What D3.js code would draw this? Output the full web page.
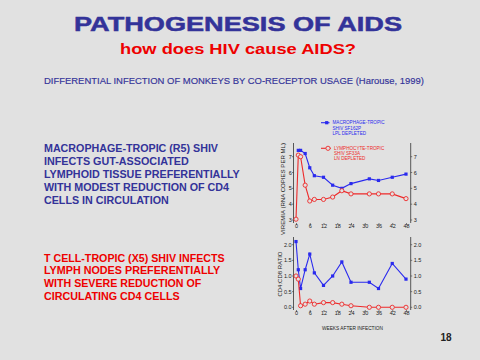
<!DOCTYPE html>
<html><head><meta charset="utf-8">
<script src="https://cdn.jsdelivr.net/npm/d3@7"></script>
<style>
html,body{margin:0;padding:0;background:#e1e1e1;}
svg{display:block;}
text{font-family:"Liberation Sans",Arial,sans-serif;}
</style></head>
<body>
<script>
// ---- data ----
const title = "PATHOGENESIS OF AIDS";
const subtitle = "how does HIV cause AIDS?";
const caption = "DIFFERENTIAL INFECTION OF MONKEYS BY CO-RECEPTOR USAGE (Harouse, 1999)";
const blueText = ["MACROPHAGE-TROPIC (R5) SHIV","INFECTS GUT-ASSOCIATED","LYMPHOID TISSUE PREFERENTIALLY","WITH MODEST REDUCTION OF CD4","CELLS IN CIRCULATION"];
const redText = ["T CELL-TROPIC (X5) SHIV INFECTS","LYMPH NODES PREFERENTIALLY","WITH SEVERE REDUCTION OF","CIRCULATING CD4 CELLS"];
const legendR5 = ["MACROPHAGE-TROPIC","SHIV SF162P","LPL DEPLETED"];
const legendX5 = ["LYMPHOCYTE-TROPIC","SHIV SF33A","LN DEPLETED"];
const weekTicks = [0,6,12,18,24,30,36,42,48];
const viremiaTicks = [3,4,5,6,7];
const ratioTicks = [0,0.5,1.0,1.5,2.0];

const weeksViremiaR5 = [1,2,4,6,8,12,16,20,24,32,36,42,48];
const viremiaR5 = [7.4,7.4,7.2,6.3,5.8,5.7,5.2,5.0,5.3,5.6,5.5,5.7,5.9];
const weeksViremiaX5 = [0,1,2,4,6,8,12,16,20,24,32,36,42,48];
const viremiaX5 = [3.05,7.1,7.0,5.2,4.2,4.3,4.3,4.45,4.85,4.65,4.65,4.65,4.65,4.35];

const weeksRatio = [0,1,2,4,6,8,12,16,20,24,32,36,42,48];
const ratioR5 = [2.1,1.2,0.6,1.2,1.7,1.1,0.7,1.0,1.45,0.8,0.8,0.6,1.4,0.9];
const ratioX5 = [1.0,0.9,0.05,0.1,0.2,0.1,0.15,0.15,0.1,0.05,0.0,0.0,0.0,0.0];

// ---- drawing ----
const W=480,H=360;
const svg=d3.select("body").append("svg").attr("width",W).attr("height",H);
svg.append("rect").attr("width",W).attr("height",H).attr("fill","#e1e1e1");

const navy="#333399", red="#ee0000", lineBlue="#2a2aee", lineRed="#ee2a2a";

svg.append("text").text(title).attr("x",74).attr("y",30.5)
  .attr("font-family","DejaVu Sans").attr("font-size",20).attr("font-weight","bold").attr("fill",navy)
  .attr("stroke",navy).attr("stroke-width",0.5)
  .attr("textLength",328).attr("lengthAdjust","spacingAndGlyphs");
svg.append("text").text(subtitle).attr("x",120).attr("y",53.5)
  .attr("font-family","DejaVu Sans").attr("font-size",15.5).attr("font-weight","bold").attr("fill",red)
  .attr("textLength",236).attr("lengthAdjust","spacingAndGlyphs");
svg.append("text").text(caption).attr("x",44).attr("y",84)
  .attr("font-size",8.5).attr("fill",navy).attr("stroke",navy).attr("stroke-width",0.15)
  .attr("textLength",380).attr("lengthAdjust","spacingAndGlyphs");

const blueW=[174,144.7,195.7,185,124.7];
svg.selectAll("text.bt").data(blueText).enter().append("text").attr("class","bt")
  .text(d=>d).attr("x",44).attr("y",(d,i)=>152.3+i*12.85)
  .attr("font-size",11).attr("font-weight","bold").attr("fill",navy)
  .attr("textLength",(d,i)=>blueW[i]).attr("lengthAdjust","spacingAndGlyphs");
const redW=[180.7,176.3,157.3,135.7];
svg.selectAll("text.rt").data(redText).enter().append("text").attr("class","rt")
  .text(d=>d).attr("x",44).attr("y",(d,i)=>261.7+i*12.7)
  .attr("font-size",11).attr("font-weight","bold").attr("fill",red)
  .attr("textLength",(d,i)=>redW[i]).attr("lengthAdjust","spacingAndGlyphs");

svg.append("text").text("18").attr("x",446).attr("y",341).attr("text-anchor","middle")
  .attr("font-size",10).attr("font-weight","bold").attr("fill","#222");

// scales
const x=d3.scaleLinear().domain([0,48]).range([296,406]);
const yTop=d3.scaleLinear().domain([3,7]).range([220,156.7]);
const yBot=d3.scaleLinear().domain([0,2]).range([307.3,244.7]);
const axL=293.5, axR=410.7;

function frame(y,y0,y1,ticks,fmt){
  const g=svg.append("g").attr("font-size",5.5).attr("fill","#222");
  g.append("line").attr("x1",axL).attr("x2",axL).attr("y1",y0).attr("y2",y1).attr("stroke","#333").attr("stroke-width",0.8);
  g.append("line").attr("x1",axR).attr("x2",axR).attr("y1",y0).attr("y2",y1).attr("stroke","#333").attr("stroke-width",0.8);
  ticks.forEach(t=>{
    g.append("line").attr("x1",axL-1.5).attr("x2",axL).attr("y1",y(t)).attr("y2",y(t)).attr("stroke","#333").attr("stroke-width",0.6);
    g.append("line").attr("x1",axR).attr("x2",axR+1.5).attr("y1",y(t)).attr("y2",y(t)).attr("stroke","#333").attr("stroke-width",0.6);
    g.append("text").text(fmt(t)).attr("x",axL-1.8).attr("y",y(t)+2).attr("text-anchor","end");
    g.append("text").text(fmt(t)).attr("x",axR+3).attr("y",y(t)+2);
  });
  const xa=svg.append("g").attr("transform",`translate(0,${y1})`)
    .call(d3.axisBottom(x).tickValues(weekTicks).tickSize(2).tickSizeOuter(0));
  xa.select(".domain").remove();
  xa.selectAll("line").attr("stroke","#333").attr("stroke-width",0.6);
  xa.selectAll("text").attr("font-size",5.5).attr("fill","#222").attr("dy","0.5em").attr("y",2.5)
    .attr("font-family","Liberation Sans, Arial, sans-serif");
}
frame(yTop,143,223,viremiaTicks,d=>d3.format("d")(d));
frame(yBot,237,310,ratioTicks,d=>d3.format(".1f")(d));

// axis titles
svg.append("text").text("VIREMIA (RNA COPIES PER ML)")
  .attr("transform","translate(284.5,189) rotate(-90)").attr("text-anchor","middle")
  .attr("font-size",6).attr("fill","#222").attr("textLength",92).attr("lengthAdjust","spacingAndGlyphs");
svg.append("text").text("CD4:CD8 RATIO")
  .attr("transform","translate(282,274) rotate(-90)").attr("text-anchor","middle")
  .attr("font-size",5.8).attr("fill","#222").attr("textLength",45).attr("lengthAdjust","spacingAndGlyphs");
svg.append("text").text("WEEKS AFTER INFECTION")
  .attr("x",322).attr("y",329.5)
  .attr("font-size",5.5).attr("fill","#222").attr("textLength",61).attr("lengthAdjust","spacingAndGlyphs");

function series(xs,ys,y,color,marker){
  const pts=xs.map((w,i)=>[w,ys[i]]);
  svg.append("path").datum(pts).attr("fill","none").attr("stroke",color).attr("stroke-width",1.1)
    .attr("d",d3.line().x(d=>x(d[0])).y(d=>y(d[1])));
  if(marker==="square"){
    svg.selectAll(null).data(pts).enter().append("rect")
      .attr("x",d=>x(d[0])-1.6).attr("y",d=>y(d[1])-1.6).attr("width",3.2).attr("height",3.2).attr("fill",color);
  } else {
    svg.selectAll(null).data(pts).enter().append("circle")
      .attr("cx",d=>x(d[0])).attr("cy",d=>y(d[1])).attr("r",2.1)
      .attr("fill","#e1e1e1").attr("stroke",color).attr("stroke-width",0.9);
  }
}
series(weeksViremiaR5,viremiaR5,yTop,lineBlue,"square");
series(weeksViremiaX5,viremiaX5,yTop,lineRed,"circle");
series(weeksRatio,ratioR5,yBot,lineBlue,"square");
series(weeksRatio,ratioX5,yBot,lineRed,"circle");

// legend
function legend(lx0,lx1,mx,ly,color,marker,lines){
  svg.append("line").attr("x1",lx0).attr("x2",lx1).attr("y1",ly).attr("y2",ly).attr("stroke",color).attr("stroke-width",1.1);
  if(marker==="square") svg.append("rect").attr("x",mx-1.6).attr("y",ly-1.6).attr("width",3.2).attr("height",3.2).attr("fill",color);
  else svg.append("circle").attr("cx",mx).attr("cy",ly).attr("r",2.1).attr("fill","#e1e1e1").attr("stroke",color).attr("stroke-width",0.9);
  svg.selectAll(null).data(lines).enter().append("text").text(d=>d)
    .attr("x",lx1+3).attr("y",(d,i)=>ly+1.7+i*5.1).attr("font-size",4.6).attr("fill",color);
}
legend(321,329.5,326.7,122.7,lineBlue,"square",legendR5);
legend(321,331,328,148.3,lineRed,"circle",legendX5);
</script>
</body></html>
